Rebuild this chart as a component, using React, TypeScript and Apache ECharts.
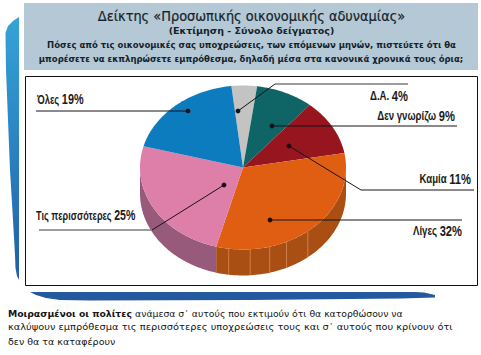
import React, { useEffect, useRef } from "react";
import * as echarts from "echarts";

const categories = ["Δ.Α.", "Δεν γνωρίζω", "Καμία", "Λίγες", "Τις περισσότερες", "Όλες"];
const values = [4, 9, 11, 32, 25, 19];
const topColors = ["#c3c3c3", "#0f6566", "#96151e", "#e05e12", "#de7fa9", "#0d7cbf"];
const sideColors = ["#8f8f8f", "#0a4647", "#6b1016", "#a94f14", "#985a7b", "#0a5a8c"];

const titleText = "Δείκτης «Προσωπικής οικονομικής αδυναμίας»";
const subtitleText = "(Εκτίμηση - Σύνολο δείγματος)";
const questionLines = [
  "Πόσες από τις οικονομικές σας υποχρεώσεις, των επόμενων μηνών, πιστεύετε ότι θα",
  "μπορέσετε να εκπληρώσετε εμπρόθεσμα, δηλαδή μέσα στα κανονικά χρονικά τους όρια;",
];
const noteBold = "Μοιρασμένοι οι πολίτες";
const noteLines = [
  " ανάμεσα σ᾽ αυτούς που εκτιμούν ότι θα κατορθώσουν να",
  "καλύψουν εμπρόθεσμα τις περισσότερες υποχρεώσεις τους και σ᾽ αυτούς που κρίνουν ότι",
  "δεν θα τα καταφέρουν",
];

// callouts: dot, optional elbow, line end, label anchor
const callouts = [
  { dot: [238, 111], elbow: [275, 84], end: [408, 84], label: [408, 96], align: "right", grey: true, sx: 0.77 },
  { dot: [272, 126], elbow: null, end: [457, 126], label: [455, 116], align: "right", grey: false, sx: 0.77 },
  { dot: [289, 146], elbow: [361, 190], end: [474, 190], label: [471, 179], align: "right", grey: false, sx: 0.77 },
  { dot: [270, 220], elbow: null, end: [462, 220], label: [462, 231], align: "right", grey: false, sx: 0.77 },
  { dot: [224, 185], elbow: [152, 230], end: [39, 230], label: [36, 215], align: "left", grey: true, sx: 0.73 },
  { dot: [188, 111], elbow: null, end: [36, 111], label: [37, 99], align: "left", grey: false, sx: 0.75 },
];

const CX = 243;
const CY = 167.5;
const RX = 103;
const RY = 82;
const DEPTH = 26;
const START_DEG = -6.5;
const wallRibDegs = [141, 155, 165, 176, 188];

const total = values.reduce((a, b) => a + b, 0);
const pt = (deg: number, dy = 0) => {
  const t = (deg * Math.PI) / 180;
  return [CX + RX * Math.sin(t), CY - RY * Math.cos(t) + dy];
};
const sliceRange = (i: number) => {
  const before = values.slice(0, i).reduce((a, b) => a + b, 0);
  return [START_DEG + (before / total) * 360, START_DEG + ((before + values[i]) / total) * 360];
};
const arcPts = (a: number, b: number, dy = 0) => {
  const n = Math.max(2, Math.ceil(Math.abs(b - a) / 1.5));
  const pts: number[][] = [];
  for (let k = 0; k <= n; k++) pts.push(pt(a + ((b - a) * k) / n, dy));
  return pts;
};

const renderWall = (_: any, api: any) => {
  const i = api.value(0);
  const [a, b] = sliceRange(i);
  const lo = Math.max(a, 90);
  const hi = Math.min(b, 270);
  if (lo >= hi) return { type: "group", children: [] };
  const front = arcPts(lo, hi);
  const back = arcPts(hi, lo, DEPTH);
  const children: any[] = [
    { type: "polygon", shape: { points: [...front, ...back] }, style: { fill: sideColors[i] } },
  ];
  wallRibDegs.forEach((d) => {
    if (d > lo && d < hi) {
      const p = pt(d);
      children.push({
        type: "line",
        shape: { x1: p[0], y1: p[1], x2: p[0], y2: p[1] + DEPTH },
        style: { stroke: "#d98a55", lineWidth: 0.8 },
      });
    }
  });
  return { type: "group", children };
};

const renderTop = (_: any, api: any) => {
  const i = api.value(0);
  const [a, b] = sliceRange(i);
  return {
    type: "polygon",
    shape: { points: [[CX, CY], ...arcPts(a, b)] },
    style: { fill: topColors[i] },
  };
};

const renderCallout = (_: any, api: any) => {
  const i = api.value(0);
  const c: any = callouts[i];
  const children: any[] = [];
  const greyCol = "#7d7d7d";
  if (c.elbow) {
    children.push({
      type: "line",
      shape: { x1: c.dot[0], y1: c.dot[1], x2: c.elbow[0], y2: c.elbow[1] },
      style: { stroke: "#1a1216", lineWidth: 1 },
    });
    children.push({
      type: "line",
      shape: { x1: c.elbow[0], y1: c.elbow[1], x2: c.end[0], y2: c.end[1] },
      style: { stroke: c.grey ? greyCol : "#1a1216", lineWidth: c.grey ? 1.4 : 1 },
    });
  } else {
    children.push({
      type: "line",
      shape: { x1: c.dot[0], y1: c.dot[1], x2: c.end[0], y2: c.end[1] },
      style: { stroke: "#1a1216", lineWidth: 1 },
    });
  }
  children.push({
    type: "circle",
    shape: { cx: c.dot[0], cy: c.dot[1], r: 2.4 },
    style: { fill: "#1a0f14" },
  });
  children.push({
    type: "text",
    x: c.label[0],
    y: c.label[1],
    scaleX: c.sx,
    style: {
      text: `{a|${categories[i]} }{b|${values[i]}%}`,
      align: c.align,
      verticalAlign: "middle",
      rich: {
        a: { font: 'bold 12.5px "Liberation Sans"', fill: "#1b1b1b" },
        b: { font: 'bold 14.5px "Liberation Sans"', fill: "#1b1b1b" },
      },
    },
  });
  return { type: "group", children };
};

const indexData = values.map((_, i) => [i]);

export default function App() {
  const ref = useRef<HTMLDivElement>(null);
  useEffect(() => {
    document.body.style.margin = "0";
    document.body.style.background = "#fff";
    const chart = echarts.init(ref.current!, null, { renderer: "svg" });
    const sans = '"DejaVu Sans"';
    chart.setOption({
      animation: false,
      backgroundColor: "#ffffff",
      graphic: [
        {
          type: "polygon",
          z: 0,
          shape: {
            points: [
              [19, 17], [13, 21], [8, 26], [5.5, 33], [6, 70], [8, 120], [10, 170], [13, 220],
              [15, 255], [15.5, 268], [17, 276], [19, 280],
            ],
          },
          style: {
            fill: new echarts.graphic.LinearGradient(0, 0, 0, 1, [
              { offset: 0, color: "#35a3d6" },
              { offset: 0.45, color: "#2b86c3" },
              { offset: 1, color: "#1f5ea6" },
            ]),
          },
        },
        {
          type: "polygon",
          z: 0,
          shape: {
            points: [
              [30, 292], [36, 295], [46, 298], [60, 300], [90, 300.5], [250, 300], [400, 298.5],
              [435, 297.5], [435, 295], [424, 292.5], [415, 292],
            ],
          },
          style: { fill: "#24589f" },
        },
        { type: "rect", z: 0, shape: { x: 24, y: 3, width: 454, height: 67 }, style: { fill: "#b4c9d5" } },
        {
          type: "rect",
          z: 0,
          shape: { x: 25.5, y: 76.5, width: 452, height: 209 },
          style: { fill: "#ffffff", stroke: "#111111", lineWidth: 1 },
        },
        {
          type: "text", z: 5, x: 251.5, y: 16, scaleX: 0.925,
          style: { text: titleText, align: "center", verticalAlign: "middle", font: `14px ${sans}`, fill: "#15222b", stroke: "#15222b", lineWidth: 0.2 },
        },
        {
          type: "text", z: 5, x: 251.5, y: 30,
          style: { text: subtitleText, align: "center", verticalAlign: "middle", font: `bold 9.5px ${sans}`, fill: "#15222b" },
        },
        {
          type: "text", z: 5, x: 251.5, y: 45, scaleX: 0.946,
          style: { text: questionLines[0], align: "center", verticalAlign: "middle", font: `bold 9px ${sans}`, fill: "#15222b" },
        },
        {
          type: "text", z: 5, x: 251, y: 59, scaleX: 0.946,
          style: { text: questionLines[1], align: "center", verticalAlign: "middle", font: `bold 9px ${sans}`, fill: "#15222b" },
        },
        {
          type: "text", z: 5, x: 8, y: 313, scaleX: 0.978,
          style: {
            text: `{b|${noteBold}}{r|${noteLines[0]}}`,
            verticalAlign: "middle",
            rich: {
              b: { font: `bold 9.5px ${sans}`, fill: "#151515" },
              r: { font: `9.5px ${sans}`, fill: "#151515" },
            },
          },
        },
        {
          type: "text", z: 5, x: 8, y: 327, scaleX: 1.035,
          style: { text: noteLines[1], verticalAlign: "middle", font: `9.5px ${sans}`, fill: "#151515" },
        },
        {
          type: "text", z: 5, x: 8, y: 341,
          style: { text: noteLines[2], verticalAlign: "middle", font: `9.5px ${sans}`, fill: "#151515" },
        },
      ],
      series: [
        { type: "custom", coordinateSystem: "none", z: 2, silent: true, data: indexData, renderItem: renderWall },
        { type: "custom", coordinateSystem: "none", z: 3, silent: true, data: indexData, renderItem: renderTop },
        { type: "custom", coordinateSystem: "none", z: 4, silent: true, data: indexData, renderItem: renderCallout },
      ],
    });
    return () => chart.dispose();
  }, []);
  return <div ref={ref} style={{ width: 481, height: 355 }} />;
}
